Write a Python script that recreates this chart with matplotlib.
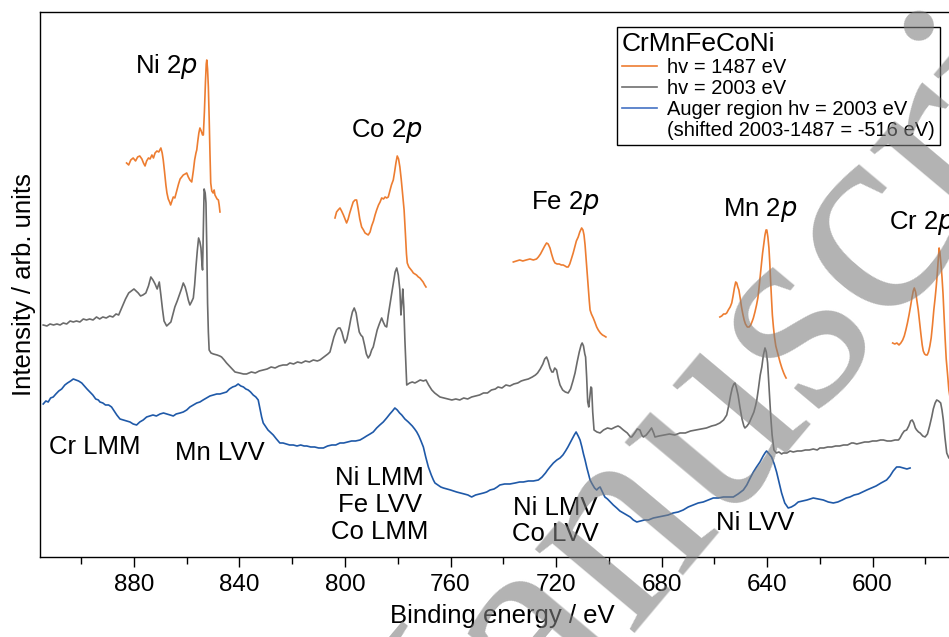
import matplotlib
matplotlib.use("Agg")
import matplotlib.pyplot as plt
from matplotlib.lines import Line2D
from matplotlib.ticker import MultipleLocator

plt.rcParams['font.family'] = ['Liberation Sans', 'DejaVu Sans']

# binding energy (eV) / intensity (arb. units)

# hv = 2003 eV survey (grey)
e_2003 = [914.4, 913.0, 911.8, 910.5, 909.2, 908.0, 906.8, 905.5, 904.2, 903.0,
          901.8, 900.5, 899.2, 898.0, 896.8, 895.5, 894.2, 893.0, 891.8, 890.5,
          889.2, 888.0, 886.8, 885.8, 884.5, 883.2, 882.0, 881.0, 880.0, 879.2,
          878.4, 877.5, 876.6, 875.5, 874.5, 873.6, 872.8, 872.0, 871.2, 870.4,
          869.8, 869.2, 868.6, 867.6, 866.8, 866.0, 865.2, 864.5, 863.6, 862.8,
          862.0, 861.3, 860.6, 860.0, 859.4, 858.8, 858.2, 857.5, 857.0, 856.5,
          856.0, 855.5, 855.0, 854.6, 854.2, 854.0, 853.7, 853.4, 853.0, 852.7,
          852.4, 852.1, 851.8, 851.5, 850.8, 849.9, 848.5, 847.5, 846.8, 845.8,
          844.9, 843.5, 842.5, 841.7, 840.0, 838.5, 837.3, 835.5, 834.0, 832.5,
          831.0, 829.5, 828.0, 826.5, 825.0, 823.5, 822.0, 820.9, 819.5, 818.0,
          816.5, 815.0, 813.5, 812.0, 810.5, 809.5, 808.5, 807.5, 806.5, 805.7,
          805.0, 804.2, 803.2, 802.5, 801.9, 801.2, 800.5, 800.0, 799.3, 798.5,
          797.8, 797.2, 796.5, 795.8, 795.2, 794.6, 794.0, 793.3, 792.6, 791.9,
          791.2, 790.5, 789.9, 789.3, 788.5, 787.8, 787.0, 786.1, 785.5, 784.8,
          784.2, 783.6, 783.0, 782.3, 781.6, 781.0, 780.4, 779.8, 779.2, 778.8,
          778.4, 778.1, 777.7, 777.3, 776.9, 776.6, 775.5, 774.5, 773.5, 772.8,
          771.5, 770.3, 769.3, 768.3, 767.1, 766.0, 765.0, 764.0, 762.5, 761.0,
          759.5, 758.0, 756.5, 755.0, 753.5, 752.0, 750.5, 749.0, 747.5, 746.0,
          744.5, 743.0, 742.0, 740.5, 739.0, 737.5, 736.0, 734.5, 733.2, 732.0,
          730.5, 729.0, 727.8, 727.0, 726.0, 725.0, 724.3, 723.6, 723.0, 722.3,
          721.6, 721.1, 720.5, 719.8, 719.2, 718.5, 717.5, 716.5, 715.4, 714.5,
          713.6, 712.8, 712.0, 711.2, 710.5, 710.1, 709.6, 709.1, 708.8, 708.4,
          708.0, 707.6, 707.2, 706.8, 706.5, 706.1, 705.6, 704.5, 703.3, 702.0,
          700.5, 699.0, 697.5, 696.5, 695.8, 694.5, 693.0, 691.8, 691.3, 690.2,
          689.2, 688.2, 687.5, 686.9, 685.8, 684.6, 683.8, 683.0, 682.5, 681.0,
          679.0, 677.0, 675.0, 673.0, 671.0, 669.0, 667.0, 665.0, 663.0, 661.0,
          659.5, 657.9, 656.5, 655.3, 654.5, 653.8, 653.2, 652.6, 652.2, 651.7,
          651.0, 650.3, 649.5, 648.8, 648.4, 647.6, 646.8, 645.8, 645.0, 644.4,
          643.9, 643.3, 642.6, 642.0, 641.4, 640.8, 640.3, 639.8, 639.3, 638.9,
          638.6, 638.1, 637.4, 636.5, 635.5, 634.5, 633.9, 632.5, 631.3, 630.1,
          628.5, 627.0, 625.5, 624.0, 622.5, 621.0, 620.0, 618.5, 617.0, 615.5,
          614.0, 612.5, 611.0, 609.5, 608.0, 607.3, 606.0, 604.5, 603.0, 601.5,
          600.0, 598.5, 597.0, 595.9, 594.5, 593.0, 591.5, 590.2, 589.6, 588.8,
          588.0, 587.1, 586.3, 585.6, 585.0, 584.4, 583.8, 583.3, 582.6, 582.0,
          581.0, 580.1, 579.2, 578.4, 577.6, 577.0, 576.3, 575.7, 575.0, 574.2,
          573.7, 573.2, 572.6, 571.9, 571.1, 569.0, 566.9]
i_2003 = [232, 231, 233, 232, 233, 232, 234, 233, 236, 235,
          236, 235, 238, 237, 238, 237, 240, 238, 240, 239,
          241, 240, 243, 242, 250, 258, 264, 266, 268, 266,
          264, 261, 262, 264, 271, 280, 277, 273, 268, 275,
          262, 248, 236, 231, 233, 235, 243, 250, 256, 262,
          268, 274, 270, 264, 257, 252, 255, 259, 272, 290,
          306, 319, 315, 309, 292, 287, 330, 368, 364, 354,
          310, 254, 225, 207, 204, 203, 202, 201, 200, 197,
          194, 190, 187, 185, 184, 183, 183, 185, 184, 186,
          187, 188, 190, 189, 191, 192, 192, 194, 193, 195,
          194, 196, 195, 197, 196, 197, 199, 201, 203, 205,
          212, 220, 227, 229, 229, 225, 218, 214, 218, 228,
          238, 245, 249, 244, 234, 225, 222, 220, 212, 203,
          199, 202, 207, 210, 219, 227, 233, 239, 235, 231,
          230, 242, 252, 264, 276, 285, 289, 282, 267, 242,
          255, 268, 250, 217, 190, 172, 174, 175, 174, 175,
          177, 176, 177, 172, 167, 164, 162, 160, 159, 158,
          157, 158, 157, 159, 158, 160, 161, 162, 164, 164,
          167, 168, 170, 169, 172, 171, 173, 174, 176, 177,
          178, 180, 182, 184, 188, 193, 198, 200, 196, 189,
          185, 185, 189, 187, 179, 172, 167, 165, 164, 168,
          176, 184, 195, 205, 212, 214, 211, 203, 200, 180,
          155, 150, 160, 170, 169, 145, 127, 125, 124, 127,
          129, 128, 130, 131, 130, 127, 124, 120, 120, 124,
          128, 127, 122, 120, 122, 126, 129, 124, 120, 121,
          122, 123, 122, 124, 124, 126, 127, 128, 129, 131,
          132, 134, 137, 142, 152, 162, 169, 173, 174, 170,
          162, 150, 138, 131, 129, 131, 134, 140, 145, 151,
          157, 168, 182, 190, 202, 209, 205, 194, 172, 155,
          140, 122, 107, 104, 105, 103, 104, 104, 106, 105,
          106, 106, 107, 107, 108, 107, 109, 109, 110, 110,
          111, 111, 112, 112, 114, 114, 113, 114, 115, 115,
          116, 116, 117, 117, 116, 116, 117, 117, 119, 123,
          126, 127, 131, 136, 137, 134, 129, 127, 125, 124,
          121, 120, 123, 131, 140, 148, 154, 157, 156, 154,
          147, 137, 120, 104, 99, 97, 95]

# Auger region hv = 2003 eV, shifted by -516 eV (blue)
e_auger = [914.4, 913.4, 912.5, 911.6, 910.6, 909.6, 908.5, 907.4, 906.2, 905.2,
           904.0, 903.0, 902.0, 901.0, 899.8, 898.8, 897.8, 896.7, 895.6, 894.5,
           893.5, 892.9, 891.8, 890.8, 889.6, 888.5, 887.5, 886.5, 885.3, 884.0,
           882.8, 881.5, 880.3, 879.0, 877.8, 876.5, 875.2, 874.0, 872.8, 871.5,
           870.1, 868.8, 867.5, 866.3, 865.1, 864.0, 862.5, 861.3, 860.0, 858.8,
           857.5, 856.2, 855.0, 853.8, 852.5, 851.2, 849.9, 848.6, 847.4, 846.2,
           844.9, 843.8, 842.6, 841.5, 840.5, 839.5, 838.5, 837.6, 836.7, 835.8,
           834.8, 833.8, 832.9, 832.2, 831.6, 831.0, 830.0, 829.2, 828.4, 827.2,
           826.0, 824.7, 823.5, 822.2, 821.0, 819.6, 818.2, 816.8, 815.5, 814.5,
           813.0, 811.5, 810.0, 808.2, 806.6, 805.0, 803.5, 801.9, 800.5, 799.0,
           797.5, 796.0, 794.3, 793.0, 791.8, 790.5, 789.3, 788.0, 786.8, 785.5,
           784.2, 783.0, 782.0, 781.1, 780.2, 779.3, 778.5, 777.3, 776.0, 774.5,
           773.6, 772.8, 772.0, 771.2, 770.3, 769.4, 768.4, 767.3, 766.5, 765.9,
           764.8, 763.7, 762.7, 761.3, 760.0, 758.8, 757.7, 756.2, 754.8, 753.4,
           752.0, 750.5, 749.0, 747.5, 746.3, 745.0, 743.5, 742.3, 741.3, 739.5,
           737.5, 735.5, 733.8, 732.4, 730.5, 728.6, 726.7, 725.3, 724.0, 723.2,
           722.3, 721.0, 719.7, 718.5, 717.4, 716.4, 715.5, 714.7, 713.9, 713.1,
           712.4, 711.6, 710.9, 710.2, 709.6, 709.0, 708.3, 707.7, 707.1, 706.3,
           705.4, 704.6, 703.9, 703.3, 702.4, 701.5, 700.5, 699.4, 698.3, 697.0,
           695.8, 694.5, 693.2, 691.9, 690.7, 689.4, 688.0, 686.5, 685.0, 683.1,
           681.3, 679.4, 677.5, 675.6, 673.7, 671.8, 669.9, 668.0, 666.1, 664.2,
           662.3, 660.4, 658.5, 656.6, 654.7, 652.8, 651.0, 649.0, 647.7, 646.4,
           645.2, 644.0, 642.7, 641.5, 640.8, 640.2, 639.2, 638.3, 637.3, 636.4,
           635.5, 634.5, 633.3, 632.0, 630.8, 629.5, 628.2, 626.6, 624.9, 622.5,
           620.6, 618.7, 616.8, 614.9, 613.2, 611.5, 610.0, 608.6, 607.0, 605.4,
           603.8, 602.2, 600.5, 598.7, 596.8, 594.7, 593.4, 592.2, 590.9, 589.7,
           588.4, 587.0, 585.8]
i_auger = [153, 156, 155, 159, 160, 163, 166, 168, 172, 174,
           176, 178, 177, 176, 174, 171, 168, 165, 162, 158,
           157, 155, 154, 152, 152, 150, 146, 142, 138, 137,
           136, 135, 133, 132, 135, 137, 140, 141, 142, 141,
           143, 144, 143, 142, 141, 143, 144, 145, 147, 150,
           152, 154, 155, 157, 159, 161, 162, 163, 163, 164,
           165, 168, 170, 171, 173, 171, 170, 168, 167, 165,
           162, 160, 157, 148, 140, 134, 130, 127, 125, 122,
           118, 114, 114, 113, 112, 112, 111, 112, 111, 111,
           110, 110, 109, 109, 111, 112, 112, 114, 114, 115,
           116, 116, 117, 119, 121, 123, 125, 129, 132, 135,
           139, 143, 146, 149, 147, 144, 142, 138, 135, 131,
           128, 125, 121, 116, 110, 100, 90, 82, 77, 74,
           72, 70, 69, 68, 67, 66, 65, 64, 63, 62,
           60, 62, 63, 64, 65, 67, 68, 70, 72, 73,
           73, 74, 75, 75, 76, 76, 77, 80, 84, 87,
           90, 94, 97, 99, 102, 106, 110, 114, 118, 122,
           125, 121, 117, 110, 103, 97, 89, 83, 77, 73,
           69, 67, 69, 70, 65, 60, 58, 55, 52, 49,
           46, 44, 42, 40, 37, 35, 36, 37, 37, 39,
           40, 41, 42, 44, 45, 47, 50, 52, 54, 55,
           57, 59, 59, 60, 60, 60, 63, 67, 72, 79,
           85, 90, 95, 101, 104, 106, 103, 100, 93, 85,
           75, 64, 54, 49, 50, 52, 55, 56, 57, 59,
           58, 57, 55, 54, 55, 57, 59, 60, 62, 63,
           65, 67, 69, 71, 74, 77, 81, 86, 90, 90,
           89, 88, 89]

# hv = 1487 eV core levels (orange), one window per element
e_ni = [882.8, 882.0, 881.2, 880.3, 879.4, 878.6, 877.8, 877.0, 876.4, 875.8,
        875.2, 874.5, 873.9, 873.2, 872.6, 872.0, 871.3, 870.6, 869.8, 869.3,
        868.9, 868.4, 867.9, 867.5, 867.0, 866.5, 866.1, 865.6, 865.1, 864.5,
        863.8, 863.1, 862.5, 861.9, 861.3, 860.6, 860.0, 859.4, 858.8, 858.1,
        857.5, 857.0, 856.5, 856.2, 855.8, 855.4, 855.0, 854.5, 854.0, 853.7,
        853.3, 852.9, 852.6, 852.4, 852.1, 851.8, 851.5, 851.2, 850.9, 850.5,
        850.0, 849.6, 849.3, 848.9, 848.5, 848.0, 847.7, 847.4]
i_ni = [394, 392, 397, 399, 396, 400, 401, 398, 394, 391,
        396, 399, 398, 402, 399, 404, 406, 405, 409, 404,
        397, 385, 372, 364, 358, 355, 352, 356, 360, 359,
        366, 373, 378, 380, 382, 383, 384, 380, 377, 375,
        386, 397, 404, 407, 416, 424, 429, 426, 422, 422,
        445, 475, 493, 497, 488, 470, 440, 405, 374, 366,
        364, 367, 362, 360, 358, 357, 352, 345]

e_co = [803.8, 803.2, 802.6, 801.9, 801.3, 800.6, 800.0, 799.4, 798.8, 798.2,
        797.5, 796.9, 796.2, 795.6, 795.0, 794.4, 793.7, 793.0, 792.4, 791.8,
        791.2, 790.5, 789.9, 789.2, 788.6, 788.0, 787.3, 786.7, 786.1, 785.4,
        784.8, 784.2, 783.6, 783.0, 782.4, 781.7, 781.2, 780.7, 780.2, 779.7,
        779.2, 778.7, 778.2, 777.6, 777.1, 776.7, 776.4, 775.8, 775.2, 774.6,
        774.1, 773.5, 772.9, 772.2, 771.6, 771.0, 770.4, 769.8, 769.3]
i_co = [339, 345, 347, 349, 346, 342, 338, 334, 338, 344,
        350, 355, 357, 357, 348, 338, 330, 327, 324, 323,
        322, 325, 331, 336, 342, 347, 352, 355, 359, 358,
        360, 359, 360, 366, 372, 377, 385, 394, 401, 398,
        390, 378, 364, 347, 323, 303, 294, 290, 288, 286,
        284, 283, 282, 280, 279, 277, 275, 272, 270]

e_fe = [736.2, 735.0, 733.8, 732.6, 731.3, 729.9, 728.6, 727.4, 726.7, 725.9,
        725.1, 724.3, 723.6, 723.0, 722.3, 721.7, 721.0, 720.4, 719.6, 718.8,
        718.0, 717.3, 716.6, 716.0, 715.4, 714.8, 714.2, 713.5, 712.9, 712.3,
        711.6, 711.0, 710.3, 709.8, 709.4, 709.0, 708.6, 708.2, 707.8, 707.4,
        707.1, 706.6, 705.9, 705.3, 704.6, 704.0, 703.2, 702.4, 701.7, 701.1]
i_fe = [295, 296, 297, 296, 297, 298, 297, 298, 300, 303,
        307, 311, 314, 313, 309, 303, 297, 294, 293, 293,
        292, 292, 291, 290, 290, 293, 298, 304, 310, 316,
        320, 325, 329, 327, 322, 312, 298, 284, 270, 256,
        247, 243, 239, 235, 230, 227, 224, 222, 221, 220]

e_mn = [657.9, 657.2, 656.5, 655.8, 655.3, 654.7, 654.0, 653.4, 652.9, 652.4,
        651.9, 651.5, 651.1, 650.7, 650.2, 649.7, 649.2, 648.7, 648.2, 647.5,
        646.8, 646.2, 645.6, 645.2, 644.6, 644.0, 643.5, 643.1, 642.6, 642.1,
        641.7, 641.2, 640.8, 640.4, 640.1, 639.7, 639.3, 639.0, 638.7, 638.3,
        638.0, 637.6, 637.2, 636.7, 636.1, 635.6, 635.1, 634.4, 633.7, 633.2,
        632.8]
i_mn = [240, 241, 243, 243, 244, 247, 250, 254, 261, 269,
        275, 274, 270, 267, 259, 250, 243, 237, 233, 230,
        230, 232, 236, 239, 245, 252, 259, 268, 281, 294,
        304, 314, 322, 327, 327, 320, 309, 295, 278, 257,
        242, 230, 220, 211, 205, 200, 195, 189, 184, 181,
        179]

e_cr = [592.4, 591.6, 590.8, 590.0, 589.3, 588.6, 588.0, 587.4, 586.8, 586.2,
        585.6, 585.1, 584.6, 584.2, 583.7, 583.2, 582.7, 582.2, 581.7, 581.2,
        580.8, 580.3, 579.8, 579.3, 578.8, 578.3, 577.8, 577.3, 576.8, 576.3,
        575.9, 575.5, 575.1, 574.8, 574.5, 574.1, 573.7, 573.3, 572.9, 572.5,
        572.1, 571.6, 571.1, 570.5, 569.8, 568.8]
i_cr = [214, 213, 214, 212, 214, 217, 221, 227, 234, 242,
        251, 259, 266, 269, 265, 256, 247, 235, 223, 212,
        206, 203, 202, 202, 205, 211, 219, 232, 247, 259,
        270, 283, 298, 309, 305, 293, 280, 263, 240, 218,
        198, 183, 167, 157, 150, 147]

orange = '#ED7D31'
grey = '#6b6b6b'
blue = '#1f59a8'

fig = plt.figure(figsize=(9.49, 6.37), dpi=100)
ax = fig.add_axes([0.0422, 0.1256, 0.9746, 0.8556])

ax.plot(e_2003, i_2003, color=grey, lw=1.2)
ax.plot(e_auger, i_auger, color=blue, lw=1.2)
for e, i in [(e_ni, i_ni), (e_co, i_co), (e_fe, i_fe), (e_mn, i_mn), (e_cr, i_cr)]:
    ax.plot(e, i, color=orange, lw=1.2)

ax.set_xlim(915.6, 565)
ax.set_ylim(0, 545)
ax.xaxis.set_major_locator(MultipleLocator(40))
ax.xaxis.set_minor_locator(MultipleLocator(20))
ax.tick_params(axis='x', which='major', direction='out', length=7, width=1,
               labelsize=17.5, pad=5)
ax.tick_params(axis='x', which='minor', direction='out', length=5, width=1)
ax.tick_params(axis='y', left=False, labelleft=False)
for s in ax.spines.values():
    s.set_linewidth(1.0)

ax.set_xlabel('Binding energy / eV', fontsize=18.5, labelpad=6)
ax.set_ylabel('Intensity / arb. units', fontsize=18.5, labelpad=3)

fs = 18.5
ax.text(867.5, 490, 'Ni 2$\\mathit{p}$', fontsize=fs, ha='center', va='center')
ax.text(784.1, 426, 'Co 2$\\mathit{p}$', fontsize=fs, ha='center', va='center')
ax.text(716.6, 354, 'Fe 2$\\mathit{p}$', fontsize=fs, ha='center', va='center')
ax.text(642.7, 347, 'Mn 2$\\mathit{p}$', fontsize=fs, ha='center', va='center')
ax.text(593.8, 334, 'Cr 2$\\mathit{p}$', fontsize=fs, ha='left', va='center')
ax.text(912.2, 110, 'Cr LMM', fontsize=fs, ha='left', va='center')
ax.text(847.4, 104, 'Mn LVV', fontsize=fs, ha='center', va='center')
ax.text(786.8, 52, 'Ni LMM\nFe LVV\nCo LMM', fontsize=fs, ha='center', va='center',
        linespacing=1.15)
ax.text(720.4, 36, 'Ni LMV\nCo LVV', fontsize=fs, ha='center', va='center',
        linespacing=1.15)
ax.text(644.6, 34, 'Ni LVV', fontsize=fs, ha='center', va='center')

handles = [Line2D([], [], color=orange, lw=1.2),
           Line2D([], [], color='#6f6f6f', lw=1.2),
           Line2D([], [], color='#4472C4', lw=1.2),
           Line2D([], [], color='none')]
labels = ['hv = 1487 eV', 'hv = 2003 eV', 'Auger region hv = 2003 eV',
          '(shifted 2003-1487 = -516 eV)']
leg = fig.legend(handles, labels, title='CrMnFeCoNi', loc='upper right',
                 bbox_to_anchor=(940 / 949, 1 - 27 / 637), borderaxespad=0,
                 fontsize=14.5, title_fontsize=19, frameon=True, fancybox=False,
                 edgecolor='black', framealpha=1, labelspacing=0.1,
                 handlelength=1.75, handletextpad=0.5, borderpad=0.25,
                 alignment='left')
leg.get_frame().set_linewidth(1.0)

# "Accepted Manuscript" watermark across the page
fig.text(0.790, 0.402, 'Manuscript', rotation=50, fontsize=205,
         family='Liberation Serif', color='#808080', alpha=0.6,
         ha='center', va='center', rotation_mode='anchor', zorder=10)

fig.savefig('out.png', dpi=100)
